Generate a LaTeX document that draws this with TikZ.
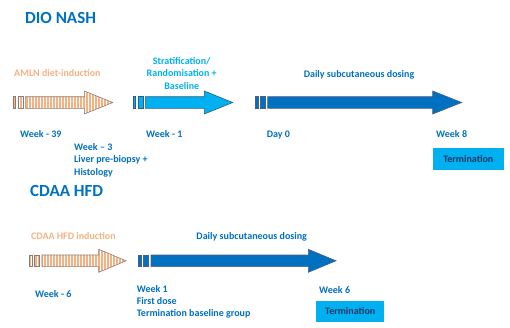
\documentclass[tikz,border=0pt]{standalone}
\usepackage{fontspec}
\setmainfont{Carlito}
\usetikzlibrary{positioning,patterns.meta}
\definecolor{NashBlue}{HTML}{0070C0}
\definecolor{NashCyan}{HTML}{00B0F0}
\definecolor{NashOrange}{HTML}{F4B183}
\definecolor{NashNavy}{HTML}{1F3864}
\definecolor{NashEdge}{HTML}{2F5F80}
\definecolor{DietEdge}{HTML}{8A7E74}
\tikzstyle{titletext} = [font=\bfseries\fontsize{17}{20}\selectfont, text=NashBlue, inner sep=0pt]
\tikzstyle{weektext} = [font=\bfseries\fontsize{10}{12.3}\selectfont, text=NashBlue, inner sep=0pt, align=left]
\tikzstyle{phasetext} = [font=\bfseries\fontsize{10}{12.3}\selectfont, inner sep=0pt, align=center]
\tikzstyle{termbox} = [fill=NashCyan, text=NashNavy, font=\bfseries\fontsize{10}{12.3}\selectfont, inner sep=0pt]
\tikzstyle{dietarrow} = [draw=DietEdge, line width=0.6pt, preaction={fill=white}, pattern={Lines[angle=90,distance=3pt,line width=1.9pt]}, pattern color=NashOrange]
\tikzstyle{baselinearrow} = [draw=NashEdge, line width=0.6pt, fill=NashCyan]
\tikzstyle{dosingarrow} = [draw=NashNavy!80, line width=0.6pt, fill=NashBlue]
% two small strips, then the block arrow: style, body start, head start, tip, middle
\newcommand{\phasearrow}[5]{%
  \draw[#1] (#2-12.5,#5-5.8) rectangle (#2-9.8,#5+5.8);
  \draw[#1] (#2-7.5,#5-5.8) rectangle (#2-2.5,#5+5.8);
  \draw[#1] (#2,#5-5.8) -- (#3,#5-5.8) -- (#3,#5-11.5) -- (#4,#5) -- (#3,#5+11.5) -- (#3,#5+5.8) -- (#2,#5+5.8) -- cycle;}
\begin{document}
\begin{tikzpicture}[x=1pt,y=-1pt]
\useasboundingbox (0,0) rectangle (510,327);

% DIO NASH
\node[titletext,anchor=base west] (dio) at (25,23.3) {DIO NASH};
\phasearrow{dietarrow}{25.3}{84.3}{112.7}{102.5}
\phasearrow{baselinearrow}{145.3}{204.3}{232.7}{102.5}
\phasearrow{dosingarrow}{267.7}{432.7}{461.7}{102.5}
\node[phasetext,text=NashOrange,anchor=base west] (amln) at (14,76.7) {AMLN diet-induction};
\node[phasetext,text=NashCyan,anchor=base] (strat) at (181.7,89) {Stratification/\\Randomisation +\\Baseline};
\node[phasetext,text=NashBlue,anchor=base] (dosing) at (359,77) {Daily subcutaneous dosing};
\node[weektext,anchor=base west] (wk39) at (20,137.5) {Week - 39};
\node[weektext,anchor=base west] (wk3) at (74,175) {Week -- 3\\Liver pre-biopsy +\\Histology};
\node[weektext,anchor=base west] (wk1) at (146,137.5) {Week - 1};
\node[weektext,anchor=base west] (day0) at (266.7,137.5) {Day 0};
\node[weektext,anchor=base west] (wk8) at (436,137.5) {Week 8};
\node[termbox,minimum width=71.3pt,minimum height=21.7pt] (term1) at (468.3,159.2) {Termination};

% CDAA HFD
\node[titletext,anchor=base west] (cdaa) at (30,196.7) {CDAA HFD};
\phasearrow{dietarrow}{42}{98.7}{126}{260.8}
\phasearrow{dosingarrow}{151}{308.3}{336}{260.8}
\node[phasetext,text=NashOrange,anchor=base west] (hfd) at (31,239) {CDAA HFD induction};
\node[phasetext,text=NashBlue,anchor=base] (dosing2) at (251.7,239) {Daily subcutaneous dosing};
\node[weektext,anchor=base west] (wk6m) at (35,297.7) {Week - 6};
\node[weektext,anchor=base west] (wk1b) at (136.7,316.7) {Week 1\\First dose\\Termination baseline group};
\node[weektext,anchor=base west] (wk6) at (319,293.3) {Week 6};
\node[termbox,minimum width=68.3pt,minimum height=20.7pt] (term2) at (350.2,311.4) {Termination};
\end{tikzpicture}
\end{document}
